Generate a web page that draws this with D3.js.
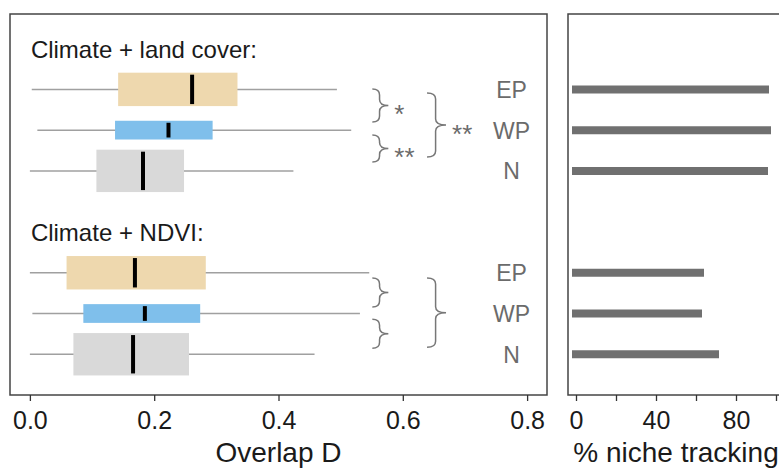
<!DOCTYPE html>
<html>
<head>
<meta charset="utf-8">
<script src="https://cdn.jsdelivr.net/npm/d3@7"></script>
<style>
  body { margin: 0; background: #fff; }
  text { font-family: "Liberation Sans", Arial, sans-serif; }
</style>
</head>
<body>
<svg width="779" height="472"></svg>
<script>
// ---- data ----
var groupTitles = ["Climate + land cover:", "Climate + NDVI:"];
var titlePos    = [0, 4.5];
var regions     = ["EP", "WP", "N"];
var rowPos      = [[1, 2, 3], [5.5, 6.5, 7.5]];

// min, q1, median, q3, max of overlap D
var landCoverStats = [
  [0.003, 0.142, 0.261, 0.334, 0.494],
  [0.012, 0.137, 0.223, 0.294, 0.517],
  [0.000, 0.107, 0.182, 0.248, 0.424]
];
var ndviStats = [
  [0.000, 0.059, 0.169, 0.283, 0.546],
  [0.004, 0.086, 0.185, 0.274, 0.531],
  [0.000, 0.070, 0.166, 0.256, 0.458]
];
// relative box thickness (varwidth)
var boxWidths  = [0.82, 0.46, 1.04];
var boxColors  = ["#eed8ae", "#7fbfeb", "#d9d9d9"];

// % niche tracking
var trackLandCover = [94.5, 95.5, 94];
var trackNdvi      = [62, 61, 69.5];

var xTicksLeft  = [0, 0.2, 0.4, 0.6, 0.8];
var xTicksRight = [0, 20, 40, 60, 80, 100];
var xLabelsRight = [0, 40, 80];

// brace annotations
var braces = [
  { x: 0.551, y0: 0.99, y1: 1.80, w: 16, label: "*" },
  { x: 0.551, y0: 2.12, y1: 2.78, w: 16, label: "**" },
  { x: 0.639, y0: 1.09, y1: 2.66, w: 19, label: "**" },
  { x: 0.551, y0: 5.63, y1: 6.34, w: 16, label: "" },
  { x: 0.551, y0: 6.64, y1: 7.35, w: 16, label: "" },
  { x: 0.639, y0: 5.63, y1: 7.33, w: 19, label: "" }
];

// ---- layout ----
var svg = d3.select("svg");
var panelTop = 14, panelBottom = 395;

var x = d3.scaleLinear().domain([-0.032, 0.832]).range([10, 547]);
var xr = d3.scaleLinear().domain([-4, 104]).range([568, 784]);
var y = d3.scaleLinear().domain([-0.85, 8.5]).range([panelTop, panelBottom]);
var rowStep = y(1) - y(0);

var g = svg.append("g");

// left panel frame
g.append("rect")
  .attr("x", x(-0.032)).attr("y", panelTop)
  .attr("width", x(0.832) - x(-0.032)).attr("height", panelBottom - panelTop)
  .attr("fill", "none").attr("stroke", "#444").attr("stroke-width", 1.5);

// right panel frame (right edge off canvas)
g.append("rect")
  .attr("x", xr(-4)).attr("y", panelTop)
  .attr("width", xr(104) - xr(-4)).attr("height", panelBottom - panelTop)
  .attr("fill", "none").attr("stroke", "#444").attr("stroke-width", 1.5);

// titles
g.selectAll(".gtitle")
  .data(groupTitles)
  .enter().append("text")
  .attr("x", x(0) + 1)
  .attr("y", (d, i) => y(titlePos[i]) + 9)
  .attr("font-size", "24px")
  .attr("fill", "#1a1a1a")
  .text(d => d);

// boxplots
var boxes = [];
[landCoverStats, ndviStats].forEach((stats, gi) => {
  stats.forEach((s, ri) => {
    boxes.push({ s: s, pos: rowPos[gi][ri], ri: ri });
  });
});

var bx = g.selectAll(".box").data(boxes).enter().append("g");

bx.append("line")
  .attr("x1", d => x(d.s[0])).attr("x2", d => x(d.s[4]))
  .attr("y1", d => y(d.pos)).attr("y2", d => y(d.pos))
  .attr("stroke", "#a0a0a0").attr("stroke-width", 1.5);

bx.append("rect")
  .attr("x", d => x(d.s[1]))
  .attr("width", d => x(d.s[3]) - x(d.s[1]))
  .attr("y", d => y(d.pos) - boxWidths[d.ri] * rowStep / 2)
  .attr("height", d => boxWidths[d.ri] * rowStep)
  .attr("fill", d => boxColors[d.ri]);

bx.append("line")
  .attr("x1", d => x(d.s[2])).attr("x2", d => x(d.s[2]))
  .attr("y1", d => y(d.pos) - boxWidths[d.ri] * rowStep / 2 + 2)
  .attr("y2", d => y(d.pos) + boxWidths[d.ri] * rowStep / 2 - 2)
  .attr("stroke", "#000").attr("stroke-width", 4);

// region labels
var labs = [];
rowPos.forEach(rows => rows.forEach((p, i) => labs.push({ pos: p, t: regions[i] })));
g.selectAll(".rlab").data(labs).enter().append("text")
  .attr("x", x(0.775))
  .attr("y", d => y(d.pos) + 8.5)
  .attr("text-anchor", "middle")
  .attr("font-size", "23px")
  .attr("fill", "#6b6b6b")
  .text(d => d.t);

// braces
function bracePath(d) {
  var x0 = x(d.x), y0 = y(d.y0), y1 = y(d.y1), ym = (y0 + y1) / 2;
  var xm = x0 + d.w * 0.45, r = 6;
  return "M" + x0 + "," + y0 +
    " Q" + xm + "," + y0 + " " + xm + "," + (y0 + r) +
    " L" + xm + "," + (ym - r) +
    " Q" + xm + "," + ym + " " + (x0 + d.w) + "," + ym +
    " Q" + xm + "," + ym + " " + xm + "," + (ym + r) +
    " L" + xm + "," + (y1 - r) +
    " Q" + xm + "," + y1 + " " + x0 + "," + y1;
}
g.selectAll(".brace").data(braces).enter().append("path")
  .attr("d", bracePath)
  .attr("fill", "none").attr("stroke", "#777").attr("stroke-width", 1.5);

g.selectAll(".star").data(braces.filter(d => d.label)).enter().append("text")
  .attr("x", d => x(d.x) + d.w + 6)
  .attr("y", d => (y(d.y0) + y(d.y1)) / 2 + 18)
  .attr("font-size", "26px")
  .attr("fill", "#6b6b6b")
  .text(d => d.label);

// tracking bars
var bars = [];
[trackLandCover, trackNdvi].forEach((vals, gi) => {
  vals.forEach((v, ri) => bars.push({ v: v, pos: rowPos[gi][ri] }));
});
g.selectAll(".bar").data(bars).enter().append("line")
  .attr("x1", xr(0)).attr("x2", d => xr(d.v))
  .attr("y1", d => y(d.pos)).attr("y2", d => y(d.pos))
  .attr("stroke", "#707070").attr("stroke-width", 8)
  .attr("stroke-linecap", "square");

// axes
var axL = g.append("g")
  .attr("transform", "translate(0," + panelBottom + ")")
  .call(d3.axisBottom(x).tickValues(xTicksLeft).tickFormat(d3.format(".1f")).tickSize(6).tickPadding(10));
axL.select(".domain").remove();
axL.selectAll("text").attr("font-size", "25px").attr("fill", "#1a1a1a").attr("font-family", "Liberation Sans, Arial, sans-serif");
axL.selectAll("line").attr("stroke", "#333").attr("stroke-width", 1.3);

var axR = g.append("g")
  .attr("transform", "translate(0," + panelBottom + ")")
  .call(d3.axisBottom(xr).tickValues(xTicksRight)
    .tickFormat(d => xLabelsRight.includes(d) ? d : "").tickSize(6).tickPadding(10));
axR.select(".domain").remove();
axR.selectAll("text").attr("font-size", "25px").attr("fill", "#1a1a1a").attr("font-family", "Liberation Sans, Arial, sans-serif");
axR.selectAll("line").attr("stroke", "#333").attr("stroke-width", 1.3);

// axis titles
g.append("text")
  .attr("x", x(0.4)).attr("y", 462)
  .attr("text-anchor", "middle")
  .attr("font-size", "28px").attr("fill", "#1a1a1a")
  .text("Overlap D");

g.append("text")
  .attr("x", xr(50)).attr("y", 462)
  .attr("text-anchor", "middle")
  .attr("font-size", "28px").attr("fill", "#1a1a1a")
  .text("% niche tracking");
</script>
</body>
</html>
